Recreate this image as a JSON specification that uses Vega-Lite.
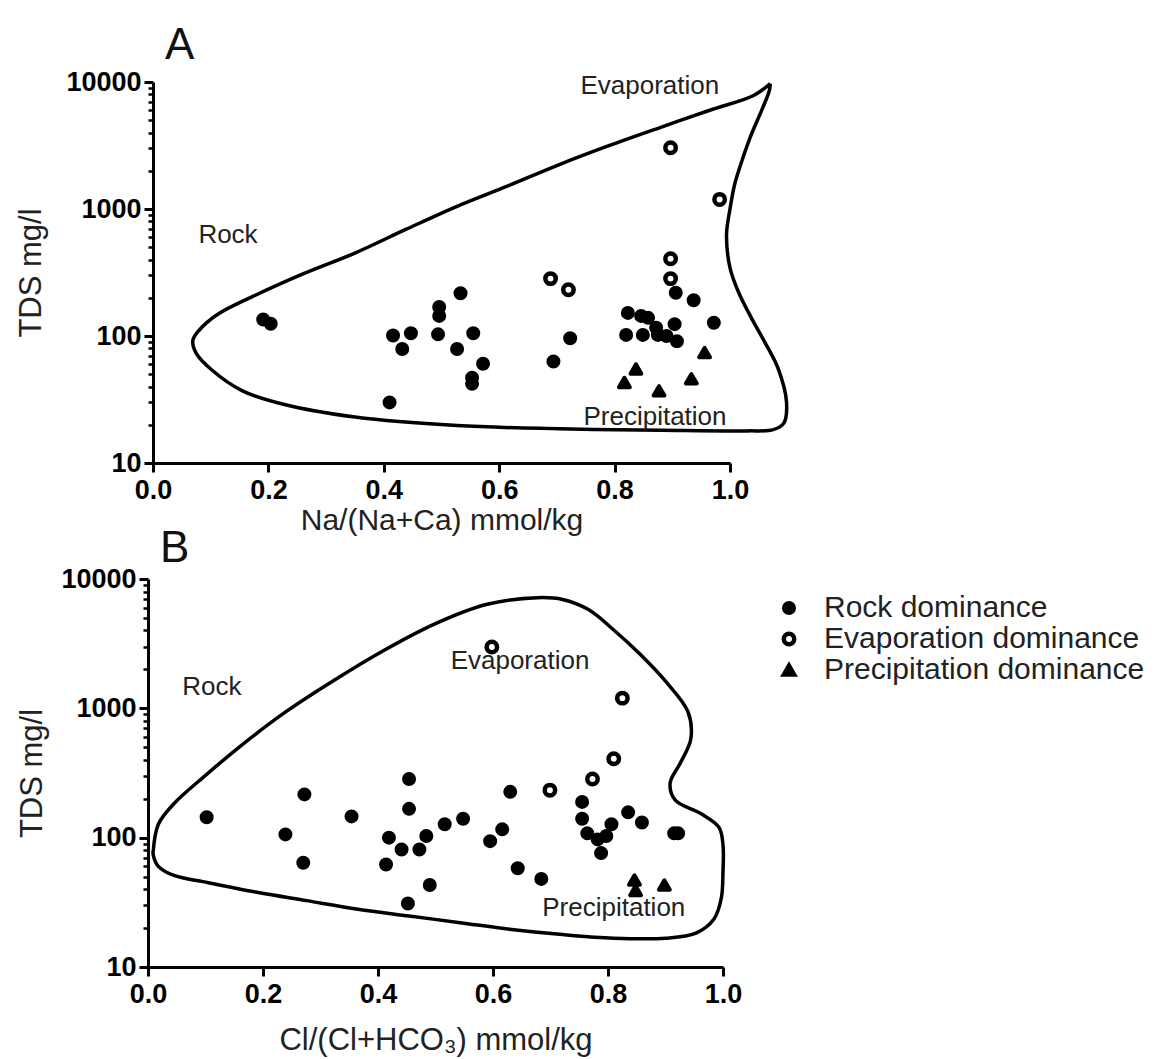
{
  "$schema": "https://vega.github.io/schema/vega-lite/v6.json",
  "background": "white",
  "padding": {"left": 15, "top": 24, "right": 5, "bottom": 5},
  "config": {
    "view": {"stroke": null},
    "font": "Liberation Sans",
    "axis": {
      "grid": false,
      "domainColor": "black",
      "domainWidth": 3,
      "tickColor": "black",
      "tickWidth": 3,
      "labelFlush": false,
      "labelFont": "Liberation Sans",
      "labelFontWeight": "bold",
      "labelFontSize": 27,
      "labelColor": "black",
      "titleFont": "Liberation Sans",
      "titleFontWeight": "normal",
      "titleFontSize": 31,
      "titleColor": "#222"
    },
    "legend": {
      "labelFont": "Liberation Sans",
      "labelFontSize": 30,
      "labelColor": "#222",
      "labelLimit": 0,
      "rowPadding": 1,
      "labelOffset": 20
    },
    "title": {"font": "Liberation Sans", "fontSize": 44, "fontWeight": "normal", "color": "#111", "anchor": "start", "frame": "group"}
  },
  "datasets": {
    "ptsA": [
      {"x": 0.191, "y": 135, "cat": "Rock dominance"},
      {"x": 0.204, "y": 125, "cat": "Rock dominance"},
      {"x": 0.41, "y": 30, "cat": "Rock dominance"},
      {"x": 0.416, "y": 101, "cat": "Rock dominance"},
      {"x": 0.447, "y": 105, "cat": "Rock dominance"},
      {"x": 0.432, "y": 79, "cat": "Rock dominance"},
      {"x": 0.496, "y": 169, "cat": "Rock dominance"},
      {"x": 0.496, "y": 144, "cat": "Rock dominance"},
      {"x": 0.494, "y": 103, "cat": "Rock dominance"},
      {"x": 0.533, "y": 217, "cat": "Rock dominance"},
      {"x": 0.527, "y": 79, "cat": "Rock dominance"},
      {"x": 0.555, "y": 105, "cat": "Rock dominance"},
      {"x": 0.572, "y": 60.5, "cat": "Rock dominance"},
      {"x": 0.553, "y": 47, "cat": "Rock dominance"},
      {"x": 0.553, "y": 42, "cat": "Rock dominance"},
      {"x": 0.694, "y": 63, "cat": "Rock dominance"},
      {"x": 0.723, "y": 96, "cat": "Rock dominance"},
      {"x": 0.906, "y": 219, "cat": "Rock dominance"},
      {"x": 0.937, "y": 191, "cat": "Rock dominance"},
      {"x": 0.823, "y": 152, "cat": "Rock dominance"},
      {"x": 0.846, "y": 144, "cat": "Rock dominance"},
      {"x": 0.858, "y": 139, "cat": "Rock dominance"},
      {"x": 0.872, "y": 116, "cat": "Rock dominance"},
      {"x": 0.904, "y": 124, "cat": "Rock dominance"},
      {"x": 0.82, "y": 102, "cat": "Rock dominance"},
      {"x": 0.849, "y": 102, "cat": "Rock dominance"},
      {"x": 0.875, "y": 102, "cat": "Rock dominance"},
      {"x": 0.89, "y": 100, "cat": "Rock dominance"},
      {"x": 0.908, "y": 91, "cat": "Rock dominance"},
      {"x": 0.972, "y": 127, "cat": "Rock dominance"},
      {"x": 0.897, "y": 3040, "cat": "Evaporation dominance"},
      {"x": 0.982, "y": 1190, "cat": "Evaporation dominance"},
      {"x": 0.897, "y": 406, "cat": "Evaporation dominance"},
      {"x": 0.897, "y": 283, "cat": "Evaporation dominance"},
      {"x": 0.689, "y": 283, "cat": "Evaporation dominance"},
      {"x": 0.72, "y": 231, "cat": "Evaporation dominance"},
      {"x": 0.956, "y": 74, "cat": "Precipitation dominance"},
      {"x": 0.837, "y": 55, "cat": "Precipitation dominance"},
      {"x": 0.817, "y": 43, "cat": "Precipitation dominance"},
      {"x": 0.877, "y": 37, "cat": "Precipitation dominance"},
      {"x": 0.933, "y": 46, "cat": "Precipitation dominance"}
    ],
    "ptsB": [
      {"x": 0.102, "y": 144, "cat": "Rock dominance"},
      {"x": 0.239, "y": 106, "cat": "Rock dominance"},
      {"x": 0.272, "y": 216, "cat": "Rock dominance"},
      {"x": 0.27, "y": 64, "cat": "Rock dominance"},
      {"x": 0.354, "y": 146, "cat": "Rock dominance"},
      {"x": 0.419, "y": 100, "cat": "Rock dominance"},
      {"x": 0.414, "y": 62, "cat": "Rock dominance"},
      {"x": 0.441, "y": 81, "cat": "Rock dominance"},
      {"x": 0.454, "y": 284, "cat": "Rock dominance"},
      {"x": 0.454, "y": 167, "cat": "Rock dominance"},
      {"x": 0.472, "y": 81, "cat": "Rock dominance"},
      {"x": 0.484, "y": 103, "cat": "Rock dominance"},
      {"x": 0.49, "y": 43, "cat": "Rock dominance"},
      {"x": 0.452, "y": 31, "cat": "Rock dominance"},
      {"x": 0.516, "y": 127, "cat": "Rock dominance"},
      {"x": 0.548, "y": 140, "cat": "Rock dominance"},
      {"x": 0.595, "y": 94, "cat": "Rock dominance"},
      {"x": 0.616, "y": 116, "cat": "Rock dominance"},
      {"x": 0.63, "y": 226, "cat": "Rock dominance"},
      {"x": 0.643, "y": 58, "cat": "Rock dominance"},
      {"x": 0.684, "y": 48, "cat": "Rock dominance"},
      {"x": 0.755, "y": 189, "cat": "Rock dominance"},
      {"x": 0.755, "y": 140, "cat": "Rock dominance"},
      {"x": 0.764, "y": 108, "cat": "Rock dominance"},
      {"x": 0.782, "y": 97, "cat": "Rock dominance"},
      {"x": 0.788, "y": 76, "cat": "Rock dominance"},
      {"x": 0.797, "y": 103, "cat": "Rock dominance"},
      {"x": 0.806, "y": 127, "cat": "Rock dominance"},
      {"x": 0.835, "y": 157, "cat": "Rock dominance"},
      {"x": 0.859, "y": 131, "cat": "Rock dominance"},
      {"x": 0.915, "y": 108, "cat": "Rock dominance"},
      {"x": 0.922, "y": 108, "cat": "Rock dominance"},
      {"x": 0.598, "y": 2976, "cat": "Evaporation dominance"},
      {"x": 0.825, "y": 1199, "cat": "Evaporation dominance"},
      {"x": 0.81, "y": 408, "cat": "Evaporation dominance"},
      {"x": 0.773, "y": 284, "cat": "Evaporation dominance"},
      {"x": 0.699, "y": 233, "cat": "Evaporation dominance"},
      {"x": 0.846, "y": 47, "cat": "Precipitation dominance"},
      {"x": 0.848, "y": 39, "cat": "Precipitation dominance"},
      {"x": 0.898, "y": 43, "cat": "Precipitation dominance"}
    ],
    "curveA": [
      {"i": 0, "x": 1.07, "y": 9700},
      {"i": 1, "x": 1.04, "y": 7800},
      {"i": 2, "x": 0.97, "y": 6100},
      {"i": 3, "x": 0.88, "y": 4400},
      {"i": 4, "x": 0.79, "y": 3150},
      {"i": 5, "x": 0.7, "y": 2200},
      {"i": 6, "x": 0.615, "y": 1520},
      {"i": 7, "x": 0.527, "y": 1050},
      {"i": 8, "x": 0.438, "y": 690},
      {"i": 9, "x": 0.35, "y": 450},
      {"i": 10, "x": 0.261, "y": 310},
      {"i": 11, "x": 0.173, "y": 205},
      {"i": 12, "x": 0.111, "y": 147},
      {"i": 13, "x": 0.08, "y": 111},
      {"i": 14, "x": 0.069, "y": 92},
      {"i": 15, "x": 0.075, "y": 73},
      {"i": 16, "x": 0.102, "y": 54},
      {"i": 17, "x": 0.155, "y": 37},
      {"i": 18, "x": 0.226, "y": 29},
      {"i": 19, "x": 0.35, "y": 23},
      {"i": 20, "x": 0.527, "y": 19.7},
      {"i": 21, "x": 0.704, "y": 18.6},
      {"i": 22, "x": 0.881, "y": 18.1},
      {"i": 23, "x": 1.03, "y": 17.9},
      {"i": 24, "x": 1.075, "y": 18.3},
      {"i": 25, "x": 1.093, "y": 20.5},
      {"i": 26, "x": 1.098, "y": 30},
      {"i": 27, "x": 1.083, "y": 56},
      {"i": 28, "x": 1.06, "y": 90},
      {"i": 29, "x": 1.037, "y": 139},
      {"i": 30, "x": 1.015, "y": 220},
      {"i": 31, "x": 1.0, "y": 344},
      {"i": 32, "x": 0.994, "y": 630},
      {"i": 33, "x": 1.0, "y": 1000},
      {"i": 34, "x": 1.008, "y": 1560},
      {"i": 35, "x": 1.022, "y": 2500},
      {"i": 36, "x": 1.037, "y": 3870},
      {"i": 37, "x": 1.055, "y": 6000},
      {"i": 38, "x": 1.068, "y": 8500},
      {"i": 39, "x": 1.07, "y": 9700}
    ],
    "curveB": [
      {"i": 0, "x": 0.009, "y": 78},
      {"i": 1, "x": 0.018, "y": 127},
      {"i": 2, "x": 0.045, "y": 183},
      {"i": 3, "x": 0.098, "y": 298},
      {"i": 4, "x": 0.169, "y": 546},
      {"i": 5, "x": 0.24, "y": 942},
      {"i": 6, "x": 0.321, "y": 1620},
      {"i": 7, "x": 0.41, "y": 2800},
      {"i": 8, "x": 0.499, "y": 4500},
      {"i": 9, "x": 0.588, "y": 6350},
      {"i": 10, "x": 0.677, "y": 7170},
      {"i": 11, "x": 0.721, "y": 6950},
      {"i": 12, "x": 0.766, "y": 5800},
      {"i": 13, "x": 0.81, "y": 4030},
      {"i": 14, "x": 0.855, "y": 2640},
      {"i": 15, "x": 0.9, "y": 1620},
      {"i": 16, "x": 0.939, "y": 942},
      {"i": 17, "x": 0.944, "y": 579},
      {"i": 18, "x": 0.926, "y": 379},
      {"i": 19, "x": 0.908, "y": 264},
      {"i": 20, "x": 0.917, "y": 195},
      {"i": 21, "x": 0.962, "y": 153},
      {"i": 22, "x": 0.993, "y": 120},
      {"i": 23, "x": 1.0, "y": 88},
      {"i": 24, "x": 1.0, "y": 55},
      {"i": 25, "x": 0.997, "y": 34},
      {"i": 26, "x": 0.984, "y": 23.4},
      {"i": 27, "x": 0.953, "y": 18.3},
      {"i": 28, "x": 0.9, "y": 16.7},
      {"i": 29, "x": 0.81, "y": 16.7},
      {"i": 30, "x": 0.721, "y": 17.8},
      {"i": 31, "x": 0.632, "y": 19.5},
      {"i": 32, "x": 0.543, "y": 22},
      {"i": 33, "x": 0.454, "y": 24.8},
      {"i": 34, "x": 0.365, "y": 28},
      {"i": 35, "x": 0.276, "y": 32.6},
      {"i": 36, "x": 0.187, "y": 38},
      {"i": 37, "x": 0.098, "y": 45.5},
      {"i": 38, "x": 0.045, "y": 51},
      {"i": 39, "x": 0.018, "y": 60},
      {"i": 40, "x": 0.009, "y": 74},
      {"i": 41, "x": 0.009, "y": 78}
    ],
    "labA": [
      {"x": 0.861, "y": 9340, "t": "Evaporation"},
      {"x": 0.13, "y": 624, "t": "Rock"},
      {"x": 0.87, "y": 23, "t": "Precipitation"}
    ],
    "labB": [
      {"x": 0.111, "y": 1455, "t": "Rock"},
      {"x": 0.647, "y": 2310, "t": "Evaporation"},
      {"x": 0.81, "y": 28.6, "t": "Precipitation"}
    ]
  },
  "vconcat": [
    {
      "title": {"text": "A", "offset": 0, "dx": 12},
      "width": 577,
      "height": 381,
      "encoding": {
        "x": {"field": "x", "type": "quantitative", "scale": {"domain": [0, 1], "nice": false, "zero": false},
          "axis": {"values": [0, 0.2, 0.4, 0.6, 0.8, 1.0], "format": ".1f", "tickSize": 9, "labelPadding": 5, "title": "Na/(Na+Ca) mmol/kg", "titlePadding": 2, "titleFontSize": 30}}
      },
      "layer": [
        {
          "data": {"name": "curveA"},
          "mark": {"type": "line", "interpolate": "catmull-rom", "stroke": "black", "strokeWidth": 3.5},
          "encoding": {
            "y": {"field": "y", "type": "quantitative", "scale": {"type": "log", "domain": [10, 10000], "nice": false},
              "axis": {"orient": "left", "values": [10, 100, 1000, 10000], "format": "d", "tickSize": 9, "labelPadding": 3, "title": "TDS mg/l", "titlePadding": 18}},
            "order": {"field": "i", "type": "quantitative"}
          }
        },
        {
          "data": {"name": "ptsA"},
          "mark": {"type": "point", "filled": true, "strokeJoin": "round", "opacity": 1},
          "encoding": {
            "y": {"field": "y", "type": "quantitative",
              "axis": {"orient": "left", "values": [20, 30, 40, 50, 60, 70, 80, 90, 200, 300, 400, 500, 600, 700, 800, 900, 2000, 3000, 4000, 5000, 6000, 7000, 8000, 9000], "labels": false, "domain": false, "tickSize": 5, "tickWidth": 2.5, "title": null}},
            "shape": {"field": "cat", "type": "ordinal", "scale": {"domain": ["Rock dominance", "Evaporation dominance", "Precipitation dominance"], "range": ["circle", "circle", "triangle-up"]},
              "legend": {"title": null, "orient": "none", "legendX": 621, "legendY": 511}},
            "fill": {"field": "cat", "type": "ordinal", "scale": {"domain": ["Rock dominance", "Evaporation dominance", "Precipitation dominance"], "range": ["black", "white", "black"]}},
            "stroke": {"field": "cat", "type": "ordinal", "scale": {"domain": ["Rock dominance", "Evaporation dominance", "Precipitation dominance"], "range": ["black", "black", "black"]}},
            "strokeWidth": {"field": "cat", "type": "ordinal", "scale": {"type": "ordinal", "domain": ["Rock dominance", "Evaporation dominance", "Precipitation dominance"], "range": [4, 4.5, 4]}},
            "size": {"field": "cat", "type": "ordinal", "scale": {"domain": ["Rock dominance", "Evaporation dominance", "Precipitation dominance"], "range": [100, 118, 170]}}
          }
        },
        {
          "data": {"name": "labA"},
          "mark": {"type": "text", "font": "Liberation Sans", "fontSize": 26, "color": "#222"},
          "encoding": {
            "y": {"field": "y", "type": "quantitative", "axis": null},
            "text": {"field": "t"}
          }
        }
      ],
      "resolve": {"axis": {"y": "independent"}}
    },
    {
      "title": {"text": "B", "offset": -6, "dx": 7},
      "width": 575,
      "height": 388,
      "encoding": {
        "x": {"field": "x", "type": "quantitative", "scale": {"domain": [0, 1], "nice": false, "zero": false, "range": [-5, 570]},
          "axis": {"values": [0, 0.2, 0.4, 0.6, 0.8, 1.0], "format": ".1f", "tickSize": 9, "labelPadding": 5, "title": "Cl/(Cl+HCO₃) mmol/kg", "titlePadding": 18}}
      },
      "layer": [
        {
          "data": {"name": "curveB"},
          "mark": {"type": "line", "interpolate": "catmull-rom", "stroke": "black", "strokeWidth": 3.5},
          "encoding": {
            "y": {"field": "y", "type": "quantitative", "scale": {"type": "log", "domain": [10, 10000], "nice": false},
              "axis": {"orient": "left", "offset": 5, "values": [10, 100, 1000, 10000], "format": "d", "tickSize": 9, "labelPadding": 3, "title": "TDS mg/l", "titlePadding": 12}},
            "order": {"field": "i", "type": "quantitative"}
          }
        },
        {
          "data": {"name": "ptsB"},
          "mark": {"type": "point", "filled": true, "strokeJoin": "round", "opacity": 1},
          "encoding": {
            "y": {"field": "y", "type": "quantitative",
              "axis": {"orient": "left", "offset": 5, "values": [20, 30, 40, 50, 60, 70, 80, 90, 200, 300, 400, 500, 600, 700, 800, 900, 2000, 3000, 4000, 5000, 6000, 7000, 8000, 9000], "labels": false, "domain": false, "tickSize": 5, "tickWidth": 2.5, "title": null}},
            "shape": {"field": "cat", "type": "ordinal", "scale": {"domain": ["Rock dominance", "Evaporation dominance", "Precipitation dominance"], "range": ["circle", "circle", "triangle-up"]},
              "legend": {"title": null, "orient": "none", "legendX": 621, "legendY": 511}},
            "fill": {"field": "cat", "type": "ordinal", "scale": {"domain": ["Rock dominance", "Evaporation dominance", "Precipitation dominance"], "range": ["black", "white", "black"]}},
            "stroke": {"field": "cat", "type": "ordinal", "scale": {"domain": ["Rock dominance", "Evaporation dominance", "Precipitation dominance"], "range": ["black", "black", "black"]}},
            "strokeWidth": {"field": "cat", "type": "ordinal", "scale": {"type": "ordinal", "domain": ["Rock dominance", "Evaporation dominance", "Precipitation dominance"], "range": [4, 4.5, 4]}},
            "size": {"field": "cat", "type": "ordinal", "scale": {"domain": ["Rock dominance", "Evaporation dominance", "Precipitation dominance"], "range": [100, 118, 170]}}
          }
        },
        {
          "data": {"name": "labB"},
          "mark": {"type": "text", "font": "Liberation Sans", "fontSize": 26, "color": "#222"},
          "encoding": {
            "y": {"field": "y", "type": "quantitative", "axis": null},
            "text": {"field": "t"}
          }
        }
      ],
      "resolve": {"axis": {"y": "independent"}}
    }
  ],
  "spacing": -8
}
